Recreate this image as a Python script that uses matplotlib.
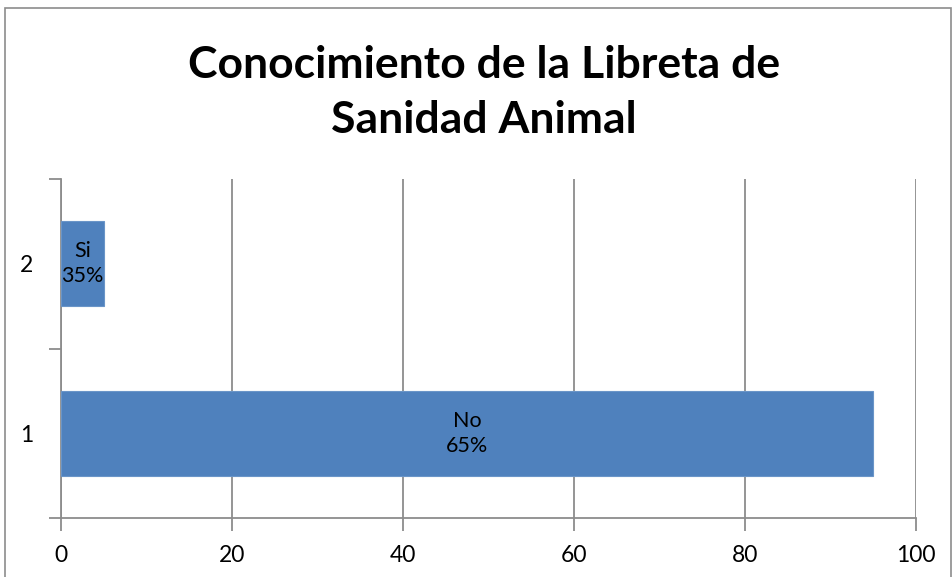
import matplotlib.pyplot as plt
from matplotlib.patches import Rectangle

# Datos del grafico
categorias = [1, 2]
valores = [95, 5]
etiquetas = ['No\n65%', 'Si\n35%']
x_ticks = [0, 20, 40, 60, 80, 100]

plt.rcParams['font.family'] = ['Lato', 'DejaVu Sans']

fig = plt.figure(figsize=(9.53, 5.77), dpi=100)
ax = fig.add_axes([0.064, 0.102, 0.897, 0.588])

gris = '#8c8c8c'
bars = ax.barh(categorias, valores, height=0.5, color='#4F81BD', edgecolor='#6a95c8', linewidth=0.8, zorder=3)

for b, txt in zip(bars, etiquetas):
    ax.text(b.get_x() + b.get_width() / 2, b.get_y() + b.get_height() / 2, txt,
            ha='center', va='center', fontsize=15.5, linespacing=1.35, zorder=4)

ax.set_xlim(0, 100)
ax.set_ylim(0.5, 2.5)
ax.set_xticks(x_ticks)
ax.set_xticklabels([str(v) for v in x_ticks], fontsize=16.5)
ax.xaxis.grid(True, color=gris, linewidth=1.3, zorder=0)

# ticks del eje y en los limites de las categorias, etiquetas en el centro
ax.set_yticks([0.5, 1.5, 2.5])
ax.set_yticklabels([])
ax.set_yticks(categorias, minor=True)
ax.set_yticklabels([str(c) for c in categorias], minor=True, fontsize=16.5)
ax.tick_params(axis='y', which='major', direction='out', length=9, color=gris, width=1.3)
ax.tick_params(axis='y', which='minor', length=0, pad=20)
ax.tick_params(axis='x', direction='out', length=9, color=gris, width=1.3, pad=10)

for s in ['top', 'right']:
    ax.spines[s].set_visible(False)
for s in ['left', 'bottom']:
    ax.spines[s].set_color(gris)
    ax.spines[s].set_linewidth(1.3)

fig.text(0.508, 0.84, 'Conocimiento de la Libreta de\nSanidad Animal', ha='center', va='center',
         fontsize=32, fontweight='bold', linespacing=1.44)

# borde del area del grafico
fig.patches.append(Rectangle((0.005, -0.01), 0.993, 0.997, transform=fig.transFigure,
                             fill=False, edgecolor=gris, linewidth=1.2))

plt.savefig('out.png', dpi=100)
